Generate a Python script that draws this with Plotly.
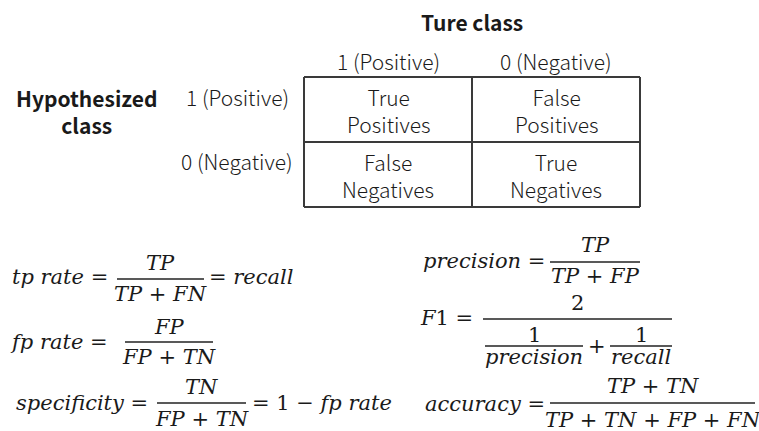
import plotly.graph_objects as go

# ---------------- data ----------------
true_class_title = "Ture class"
hyp_class_title = "Hypothesized<br>class"
col_labels = ["1 (Positive)", "0 (Negative)"]
row_labels = ["1 (Positive)", "0 (Negative)"]
cell_text = [["True<br>Positives", "False<br>Positives"],
             ["False<br>Negatives", "True<br>Negatives"]]

formula_lhs = ["<i>tp rate</i> =", "<i>fp rate</i> =", "<i>specificity</i> =",
               "<i>precision</i> =", "<i>F</i>1 =", "<i>accuracy</i> ="]
formula_num = ["<i>TP</i>", "<i>FP</i>", "<i>TN</i>",
               "<i>TP</i>", "2", "<i>TP</i> + <i>TN</i>"]
formula_den = ["<i>TP</i> + <i>FN</i>", "<i>FP</i> + <i>TN</i>", "<i>FP</i> + <i>TN</i>",
               "<i>TP</i> + <i>FP</i>", "", "<i>TP</i> + <i>TN</i> + <i>FP</i> + <i>FN</i>"]
formula_rhs = ["= <i>recall</i>", "", "= 1 − <i>fp rate</i>", "", "", ""]
f1_sub_num = ["1", "1"]
f1_sub_den = ["<i>precision</i>", "<i>recall</i>"]

# ---------------- layout geometry (pixels) ----------------
W, H = 759, 431
grid_x = [304, 472, 640]
grid_y = [77, 142, 207]
row_label_y = [97, 161]
lhs_end = [110, 110, 150, 547, 475, 547]
lhs_y = [277, 342, 403, 261, 318, 404]
bar_x = [(117, 204), (125, 213), (157, 246), (550, 640), (483, 672), (550, 755)]
bar_y = [279, 342, 403, 262, 319, 403]
num_y = [263, 327, 387, 245, 303, 386]
den_y = [294, 357, 419, 276, 0, 420]
rhs_x = [207, 0, 250, 0, 0, 0]
sub_bar_x = [(485, 583), (610, 672)]
sub_bar_y = 346
sub_num_y = 335
sub_den_y = 357
plus_x = 597

TXT = "#1a1a1a"
SANS = "Noto Sans CJK SC, Noto Sans, sans-serif"
MATH = "DejaVu Serif, serif"
FS = 21
MFS = 21

fig = go.Figure()
fig.add_trace(go.Scatter(x=[], y=[], showlegend=False))

ann = []
shapes = []


def text(x, y, s, font, size, xanchor="center", weight="normal"):
    ann.append(dict(x=x, y=y, xref="x", yref="y", text=s, showarrow=False,
                    xanchor=xanchor, yanchor="middle",
                    font=dict(family=font, size=size, color=TXT, weight=weight)))


def line(x0, y0, x1, y1, w, c):
    shapes.append(dict(type="line", xref="x", yref="y", x0=x0, y0=y0, x1=x1, y1=y1,
                       line=dict(color=c, width=w)))


# table
text((grid_x[0] + grid_x[2]) / 2, 22, true_class_title, SANS, FS, weight="bold")
text(87, 111, hyp_class_title, SANS, FS, weight="bold")
for j, lab in enumerate(col_labels):
    text((grid_x[j] + grid_x[j + 1]) / 2, 61, lab, SANS, FS, weight=300)
for i, lab in enumerate(row_labels):
    text(237, row_label_y[i], lab, SANS, FS, weight=300)
for i in range(2):
    for j in range(2):
        text((grid_x[j] + grid_x[j + 1]) / 2, (grid_y[i] + grid_y[i + 1]) / 2 + 1,
             cell_text[i][j], SANS, FS, weight=300)
for gx in grid_x:
    line(gx, grid_y[0], gx, grid_y[-1], 2, "#3a3a3a")
for gy in grid_y:
    line(grid_x[0], gy, grid_x[-1], gy, 2, "#3a3a3a")

# formulas
for k in range(len(formula_lhs)):
    text(lhs_end[k], lhs_y[k], formula_lhs[k], MATH, MFS, xanchor="right")
    x0, x1 = bar_x[k]
    cx = (x0 + x1) / 2
    line(x0, bar_y[k], x1, bar_y[k], 1.6, "#222222")
    text(cx, num_y[k], formula_num[k], MATH, MFS)
    if formula_den[k]:
        text(cx, den_y[k], formula_den[k], MATH, MFS)
    if formula_rhs[k]:
        text(rhs_x[k], lhs_y[k], formula_rhs[k], MATH, MFS, xanchor="left")

for m in range(2):
    x0, x1 = sub_bar_x[m]
    cx = (x0 + x1) / 2
    line(x0, sub_bar_y, x1, sub_bar_y, 1.6, "#222222")
    text(cx, sub_num_y, f1_sub_num[m], MATH, MFS)
    text(cx, sub_den_y, f1_sub_den[m], MATH, MFS)
text(plus_x, sub_bar_y, "+", MATH, MFS)

fig.update_layout(
    width=W, height=H,
    margin=dict(l=0, r=0, t=0, b=0),
    paper_bgcolor="white", plot_bgcolor="white",
    xaxis=dict(range=[0, W], visible=False, fixedrange=True),
    yaxis=dict(range=[H, 0], visible=False, fixedrange=True),
    annotations=ann, shapes=shapes, showlegend=False,
)
fig.write_html("out.html", config={"displayModeBar": False},
               post_script="document.body.style.margin='0';"
                           "document.body.style.overflow='hidden';")
